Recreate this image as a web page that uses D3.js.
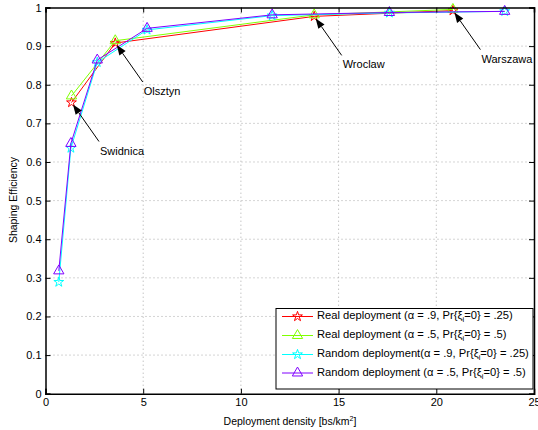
<!DOCTYPE html>
<html>
<head>
<meta charset="utf-8">
<script src="https://cdn.jsdelivr.net/npm/d3@7"></script>
<style>
  html, body { margin: 0; padding: 0; background: #fff; }
  svg { display: block; font-family: "Liberation Sans", Arial, Helvetica, sans-serif; }
</style>
</head>
<body>
<svg id="chart" width="538" height="430"></svg>
<script>
// ---- data ----
const realDensity = [1.33, 3.57, 13.75, 20.85];
const realAlpha9 = [0.754, 0.908, 0.977, 0.992];
const realAlpha5 = [0.771, 0.914, 0.981, 0.995];
const randomDensity = [0.68, 1.3, 2.65, 5.2, 11.6, 17.6, 23.5];
const randomAlpha9 = [0.289, 0.636, 0.858, 0.942, 0.979, 0.986, 0.99];
const randomAlpha5 = [0.318, 0.648, 0.864, 0.946, 0.981, 0.987, 0.99];
const cityNames = ["Swidnica", "Olsztyn", "Wroclaw", "Warszawa"];
const xTicks = [0, 5, 10, 15, 20, 25];
const yTicks = [0, 0.1, 0.2, 0.3, 0.4, 0.5, 0.6, 0.7, 0.8, 0.9, 1];
const seriesLabels = [
  ["Real deployment (\u03b1 = .9, Pr{\u03be", "i", "=0} = .25)"],
  ["Real deployment (\u03b1 = .5, Pr{\u03be", "i", "=0} = .5)"],
  ["Random deployment(\u03b1 = .9, Pr{\u03be", "i", "=0} = .25)"],
  ["Random deployment (\u03b1 = .5, Pr{\u03be", "i", "=0} = .5)"]
];

// ---- layout ----
const svg = d3.select("#chart");
const X0 = 45.5, X1 = 534, Y0 = 393.7, Y1 = 7.5;
const x = d3.scaleLinear().domain([0, 25]).range([X0, X1]);
const y = d3.scaleLinear().domain([0, 1]).range([Y0, Y1]);

const series = [
  { xs: realDensity, ys: realAlpha9, color: "#ff0000", marker: "star" },
  { xs: realDensity, ys: realAlpha5, color: "#80ff00", marker: "tri" },
  { xs: randomDensity, ys: randomAlpha9, color: "#00ffff", marker: "star" },
  { xs: randomDensity, ys: randomAlpha5, color: "#8000ff", marker: "tri" }
];

// grid
const grid = svg.append("g");
grid.selectAll(".gx").data(xTicks.slice(1, -1)).join("line")
  .attr("x1", d => x(d)).attr("x2", d => x(d)).attr("y1", Y0).attr("y2", Y1)
  .attr("stroke", "#aaa").attr("stroke-width", 1).attr("stroke-dasharray", "1,3");
grid.selectAll(".gy").data(yTicks.slice(1, -1)).join("line")
  .attr("y1", d => y(d)).attr("y2", d => y(d)).attr("x1", X0).attr("x2", X1)
  .attr("stroke", "#aaa").attr("stroke-width", 1).attr("stroke-dasharray", "1,3");

// series
const starSym = d3.symbol().type(d3.symbolStar).size(30);
const triSym = d3.symbol().type(d3.symbolTriangle).size(46);
function markerPath(m) { return m === "star" ? starSym() : triSym(); }

series.forEach(s => {
  const pts = s.xs.map((d, i) => [d, s.ys[i]]);
  svg.append("path")
    .attr("d", d3.line().x(d => x(d[0])).y(d => y(d[1]))(pts))
    .attr("fill", "none").attr("stroke", s.color).attr("stroke-width", 1);
  svg.append("g").selectAll("path").data(pts).join("path")
    .attr("d", markerPath(s.marker))
    .attr("transform", d => `translate(${x(d[0])},${y(d[1])})`)
    .attr("fill", "none").attr("stroke", s.color).attr("stroke-width", 1);
});

// axes
const fmtY = d => (d === 0 || d === 1) ? String(d) : d.toFixed(1);
const axB = svg.append("g").attr("transform", `translate(0,${Y0})`)
  .call(d3.axisBottom(x).tickValues(xTicks).tickSize(-5).tickPadding(5).tickFormat(d3.format("d")));
const axL = svg.append("g").attr("transform", `translate(${X0},0)`)
  .call(d3.axisLeft(y).tickValues(yTicks).tickSize(-5).tickPadding(4).tickFormat(fmtY));
const axT = svg.append("g").attr("transform", `translate(0,${Y1})`)
  .call(d3.axisTop(x).tickValues(xTicks).tickSize(-5).tickFormat(""));
const axR = svg.append("g").attr("transform", `translate(${X1},0)`)
  .call(d3.axisRight(y).tickValues(yTicks).tickSize(-5).tickFormat(""));
[axB, axL, axT, axR].forEach(a => {
  a.select(".domain").attr("stroke", "#000").attr("stroke-width", 1.5);
  a.selectAll(".tick line").attr("stroke", "#000").attr("stroke-width", 1);
  a.selectAll("text").attr("font-size", 11).attr("fill", "#000")
    .attr("font-family", "'Liberation Sans', Arial, sans-serif");
});

// axis labels
svg.append("text").attr("x", 290).attr("y", 425).attr("text-anchor", "middle")
  .attr("font-size", 10.5).text("Deployment density [bs/km")
  .append("tspan").attr("dy", -4).attr("font-size", 7).text("2")
  .select(function () { return this.parentNode; })
  .append("tspan").attr("dy", 4).attr("font-size", 10.5).text("]");
svg.append("text").attr("transform", "translate(17,200) rotate(-90)")
  .attr("text-anchor", "middle").attr("font-size", 10.5).text("Shaping Efficiency");

// annotations
const ann = svg.append("g");
cityNames.forEach((name, i) => {
  const px = x(realDensity[i]) + 1.5, py = y(realAlpha9[i]) + 2;
  const tx = px + 26, ty = py + 37;
  const ang = Math.atan2(ty - py, tx - px);
  const L = 10, W = 3.8;
  const bx = px + L * Math.cos(ang), by = py + L * Math.sin(ang);
  ann.append("line").attr("x1", bx).attr("y1", by).attr("x2", tx).attr("y2", ty)
    .attr("stroke", "#000").attr("stroke-width", 1);
  ann.append("path")
    .attr("d", `M${px},${py}L${bx - W * Math.sin(ang)},${by + W * Math.cos(ang)}L${bx + W * Math.sin(ang)},${by - W * Math.cos(ang)}Z`)
    .attr("fill", "#000");
  ann.append("text").attr("x", tx + 1).attr("y", ty + 13).attr("font-size", 11).text(name);
});

// legend
const lg = svg.append("g");
lg.append("rect").attr("x", 276).attr("y", 308.5).attr("width", 257).attr("height", 80.5)
  .attr("fill", "#fff").attr("stroke", "#000").attr("stroke-width", 1);
const rowY = [315.5, 334.5, 353.5, 372];
series.forEach((s, i) => {
  const ry = rowY[i] + 1;
  lg.append("line").attr("x1", 282).attr("x2", 313).attr("y1", ry).attr("y2", ry)
    .attr("stroke", s.color).attr("stroke-width", 1);
  lg.append("path").attr("d", markerPath(s.marker))
    .attr("transform", `translate(297.5,${ry})`)
    .attr("fill", "none").attr("stroke", s.color).attr("stroke-width", 1);
  const t = lg.append("text").attr("x", 317).attr("y", rowY[i] + 3.5).attr("font-size", 11.2);
  t.append("tspan").text(seriesLabels[i][0]);
  t.append("tspan").attr("dy", 3).attr("font-size", 7.5).text(seriesLabels[i][1]);
  t.append("tspan").attr("dy", -3).attr("font-size", 11.2).text(seriesLabels[i][2]);
});
</script>
</body>
</html>
